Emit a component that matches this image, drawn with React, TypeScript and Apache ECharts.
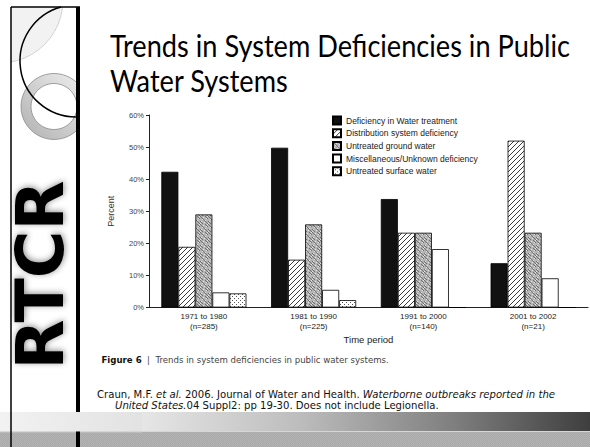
import React, { useEffect, useRef } from 'react';
import * as echarts from 'echarts';

const periods = ['1971 to 1980', '1981 to 1990', '1991 to 2000', '2001 to 2002'];
const sampleSizes = ['(n=285)', '(n=225)', '(n=140)', '(n=21)'];
const seriesNames = [
  'Deficiency in Water treatment',
  'Distribution system deficiency',
  'Untreated ground water',
  'Miscellaneous/Unknown deficiency',
  'Untreated surface water',
];
const waterTreatment = [42.3, 49.8, 33.8, 13.8];
const distribution = [18.9, 14.9, 23.3, 52.0];
const groundWater = [29.0, 25.9, 23.3, 23.3];
const miscUnknown = [4.7, 5.5, 18.2, 9.1];
const surfaceWater = [4.4, 2.3, 0, 0];
const yMin = 0;
const yMax = 60;
const yStep = 10;

const titleLines = ['Trends in System Deficiencies in Public', 'Water Systems'];

function makeCanvas(w: number, h: number, draw: (ctx: CanvasRenderingContext2D) => void) {
  const c = document.createElement('canvas');
  c.width = w;
  c.height = h;
  const ctx = c.getContext('2d') as CanvasRenderingContext2D;
  draw(ctx);
  return c;
}

function pattern(c: HTMLCanvasElement) {
  return { image: c, repeat: 'repeat', imageWidth: c.width, imageHeight: c.height } as any;
}

export default function App() {
  const ref = useRef<HTMLDivElement>(null);
  useEffect(() => {
    if (!ref.current) return;
    const chart = echarts.init(ref.current, undefined, { renderer: 'svg' });

    const hatch = makeCanvas(5, 5, (ctx) => {
      ctx.fillStyle = '#ffffff';
      ctx.fillRect(0, 0, 5, 5);
      ctx.strokeStyle = '#222';
      ctx.lineWidth = 0.9;
      ctx.beginPath();
      ctx.moveTo(-1, 6); ctx.lineTo(6, -1);
      ctx.moveTo(-1, 1); ctx.lineTo(1, -1);
      ctx.moveTo(4, 6); ctx.lineTo(6, 4);
      ctx.stroke();
    });
    const stipple = makeCanvas(8, 8, (ctx) => {
      ctx.fillStyle = '#b4b4b4';
      ctx.fillRect(0, 0, 8, 8);
      for (let x = 0; x < 8; x++) {
        for (let y = 0; y < 8; y++) {
          if ((x * 7 + y * 13) % 5 === 0) { ctx.fillStyle = '#6e6e6e'; ctx.fillRect(x, y, 1, 1); }
          else if ((x * 3 + y * 5) % 7 === 0) { ctx.fillStyle = '#e2e2e2'; ctx.fillRect(x, y, 1, 1); }
        }
      }
    });
    const dots = makeCanvas(4, 4, (ctx) => {
      ctx.fillStyle = '#ffffff';
      ctx.fillRect(0, 0, 4, 4);
      ctx.fillStyle = '#555';
      ctx.fillRect(0, 0, 1, 1);
      ctx.fillRect(2, 2, 1, 1);
    });
    const checker = makeCanvas(2, 2, (ctx) => {
      ctx.fillStyle = '#a9a9a9';
      ctx.fillRect(0, 0, 2, 2);
      ctx.fillStyle = '#b3b3b3';
      ctx.fillRect(0, 0, 1, 1);
      ctx.fillRect(1, 1, 1, 1);
    });

    const fills = ['#111111', pattern(hatch), pattern(stipple), '#ffffff', pattern(dots)];
    const values = [waterTreatment, distribution, groundWater, miscUnknown, surfaceWater];

    const sans = 'Liberation Sans, Arial, sans-serif';

    chart.setOption({
      animation: false,
      backgroundColor: '#ffffff',
      grid: { left: 149, top: 115, width: 439, height: 192.5, containLabel: false },
      legend: {
        orient: 'vertical',
        left: 332,
        top: 115.5,
        padding: 0,
        itemWidth: 8,
        itemHeight: 8,
        itemGap: 2.7,
        icon: 'rect',
        data: seriesNames,
        textStyle: { fontSize: 8.5, fontFamily: sans, color: '#1a1a1a', lineHeight: 8 },
      },
      xAxis: {
        type: 'category',
        data: periods.map((p, i) => p + '\n' + sampleSizes[i]),
        axisLine: { lineStyle: { color: '#222', width: 1 } },
        axisTick: { length: 3, lineStyle: { color: '#222' } },
        axisLabel: { fontSize: 8, fontFamily: sans, color: '#222', lineHeight: 10, margin: 4 },
        name: 'Time period',
        nameLocation: 'middle',
        nameGap: 27,
        nameTextStyle: { fontSize: 9.5, fontFamily: sans, color: '#222' },
      },
      yAxis: {
        type: 'value',
        min: yMin,
        max: yMax,
        interval: yStep,
        axisLine: { show: true, lineStyle: { color: '#222', width: 1 } },
        axisTick: { show: true, length: 3, lineStyle: { color: '#222' } },
        splitLine: { show: false },
        axisLabel: { formatter: '{value}%', fontSize: 7.5, fontFamily: sans, color: '#444', margin: 5 },
        name: 'Percent',
        nameLocation: 'middle',
        nameGap: 34,
        nameRotate: 90,
        nameTextStyle: { fontSize: 9, fontFamily: sans, color: '#333' },
      },
      series: seriesNames.map((name, i) => ({
        name,
        type: 'bar',
        data: values[i],
        barGap: '0%',
        barCategoryGap: '22.5%',
        itemStyle: { color: fills[i], borderColor: '#000', borderWidth: 0.8 },
        emphasis: { disabled: true },
      })),
      graphic: [
        { type: 'circle', z: -10, shape: { cx: 0, cy: 0, r: 63 }, style: { fill: '#f2f2f2', stroke: '#c8c8c8', lineWidth: 0.8 } },
        { type: 'rect', z: -9, shape: { x: 0, y: 0, width: 11, height: 90 }, style: { fill: '#fff' } },
        { type: 'rect', z: -9, shape: { x: 0, y: 0, width: 90, height: 7 }, style: { fill: '#fff' } },
        {
          type: 'ring', z: -8, shape: { cx: 54, cy: 106.5, r: 33, r0: 23 },
          style: {
            fill: { type: 'linear', x: 0, y: 1, x2: 1, y2: 0, colorStops: [{ offset: 0, color: '#b0b0b0' }, { offset: 1, color: '#f0f0f0' }] },
            stroke: '#8a8a8a', lineWidth: 0.8,
          },
        },
        { type: 'rect', z: -7, shape: { x: 80, y: 70, width: 12, height: 76 }, style: { fill: '#fff' } },
        { type: 'arc', z: -6, shape: { cx: 76, cy: 61, r: 56, startAngle: Math.PI / 2, endAngle: 4.442, clockwise: true }, style: { stroke: '#000', lineWidth: 1.5, fill: null } },
        {
          type: 'rect', z: -6, shape: { x: 0, y: 412, width: 142, height: 20 },
          style: { fill: { type: 'linear', x: 0, y: 0, x2: 1, y2: 0, colorStops: [{ offset: 0, color: '#f2f2f2' }, { offset: 1, color: '#e2e2e2' }] } },
        },
        {
          type: 'rect', z: -6, shape: { x: 142, y: 412, width: 448, height: 19 },
          style: { fill: { type: 'linear', x: 0, y: 0, x2: 1, y2: 0, colorStops: [{ offset: 0, color: '#e6e6e6' }, { offset: 0.35, color: '#bdbdbd' }, { offset: 0.7, color: '#7e7e7e' }, { offset: 1, color: '#3e3e3e' }] } },
        },
        { type: 'rect', z: -6, shape: { x: 0, y: 431.5, width: 590, height: 16 }, style: { fill: pattern(checker) } },
        { type: 'rect', z: -6, shape: { x: 0, y: 431.5, width: 142, height: 0.8 }, style: { fill: '#e2e2e2' } },
        { type: 'line', z: -5, shape: { x1: 11, y1: 7, x2: 80, y2: 7 }, style: { stroke: '#000', lineWidth: 1.5 } },
        { type: 'line', z: -5, shape: { x1: 11, y1: 7, x2: 11, y2: 447 }, style: { stroke: '#000', lineWidth: 1.5 } },
        { type: 'rect', z: -5, shape: { x: 76, y: 7, width: 4, height: 405 }, style: { fill: '#000' } },
        { type: 'rect', z: -5, shape: { x: 76, y: 431.5, width: 4, height: 16 }, style: { fill: '#000' } },
        {
          type: 'text', z: -4, x: 40, y: 275, rotation: Math.PI / 2,
          style: {
            text: 'RTCR', fontFamily: 'DejaVu Sans', fontWeight: 'bold', fontSize: 65, fill: '#000',
            align: 'center', verticalAlign: 'middle',
            textShadowColor: 'rgba(0,0,0,0.45)', textShadowBlur: 6, textShadowOffsetX: 1, textShadowOffsetY: 1,
          },
        },
        { type: 'text', x: 110, y: 45, scaleX: 0.905, style: { text: titleLines[0], fontFamily: 'Lato', fontSize: 30, fill: '#000', verticalAlign: 'middle' } },
        { type: 'text', x: 110, y: 80, scaleX: 0.905, style: { text: titleLines[1], fontFamily: 'Lato', fontSize: 30, fill: '#000', verticalAlign: 'middle' } },
        {
          type: 'text', x: 101.5, y: 360,
          style: {
            text: '{b|Figure 6}{n|  |  Trends in system deficiencies in public water systems.}',
            verticalAlign: 'middle',
            rich: {
              b: { fontFamily: 'DejaVu Sans', fontWeight: 'bold', fontSize: 8.6, fill: '#111' },
              n: { fontFamily: 'DejaVu Sans', fontSize: 8.6, fill: '#444' },
            },
          },
        },
        {
          type: 'text', x: 97, y: 394.5,
          style: {
            text: '{n|Craun, M.F. }{i|et al.}{n| 2006. Journal of Water and Health. }{i|Waterborne outbreaks reported in the}',
            verticalAlign: 'middle',
            rich: {
              n: { fontFamily: 'DejaVu Sans', fontSize: 10.1, fill: '#111' },
              i: { fontFamily: 'DejaVu Sans', fontStyle: 'italic', fontSize: 10.1, fill: '#111' },
            },
          },
        },
        {
          type: 'text', x: 115, y: 405.5,
          style: {
            text: '{i|United States.}{n|04 Suppl2: pp 19-30. Does not include Legionella.}',
            verticalAlign: 'middle',
            rich: {
              n: { fontFamily: 'DejaVu Sans', fontSize: 10.1, fill: '#111' },
              i: { fontFamily: 'DejaVu Sans', fontStyle: 'italic', fontSize: 10.1, fill: '#111' },
            },
          },
        },
      ],
    });
    return () => chart.dispose();
  }, []);
  return <div ref={ref} style={{ position: 'fixed', left: 0, top: 0, width: 590, height: 447 }} />;
}
